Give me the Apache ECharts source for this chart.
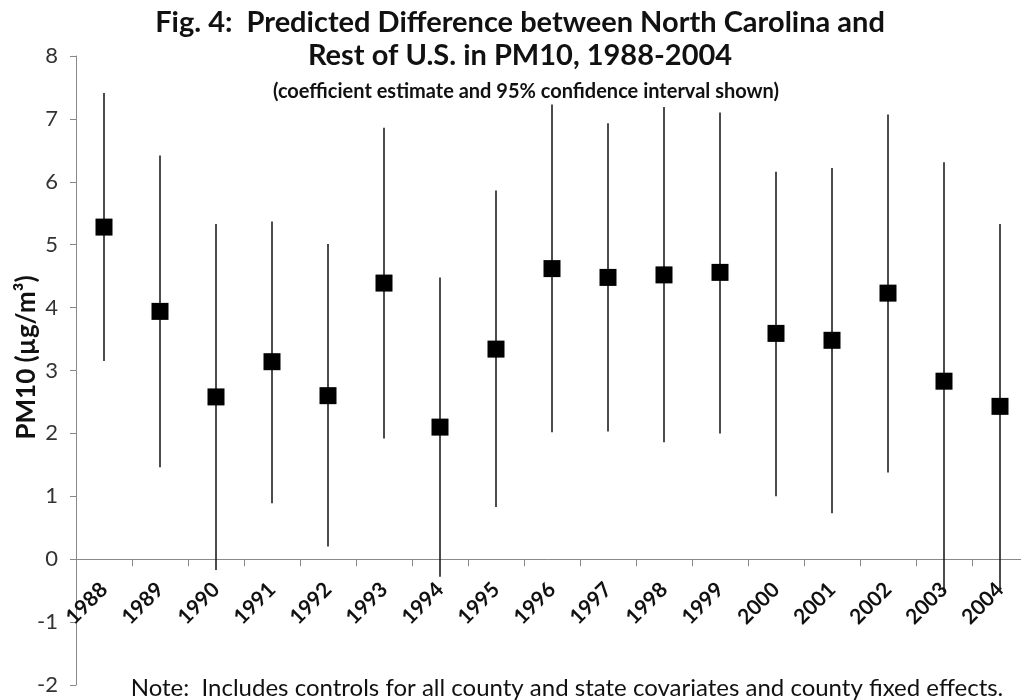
<!DOCTYPE html>
<html>
<head>
<meta charset="utf-8">
<title>PM10 difference, North Carolina vs rest of U.S.</title>
<script src="https://cdn.jsdelivr.net/npm/echarts@6/dist/echarts.min.js"></script>
<style>
  html, body { margin: 0; padding: 0; background: #fff; }
  #chart { width: 1021px; height: 700px; }
</style>
</head>
<body>
<div id="chart"></div>
<script>
// Years on the category axis
const years = ['1988','1989','1990','1991','1992','1993','1994','1995','1996',
               '1997','1998','1999','2000','2001','2002','2003','2004'];
// Coefficient estimates (µg/m³)
const estimate = [5.28, 3.94, 2.58, 3.14, 2.60, 4.39, 2.10, 3.34, 4.62,
                  4.48, 4.52, 4.56, 3.59, 3.48, 4.23, 2.83, 2.43];
// 95% confidence interval bounds
const lower = [3.15, 1.46, -0.17, 0.89, 0.20, 1.92, -0.28, 0.83, 2.02,
               2.03, 1.86, 2.00, 1.00, 0.73, 1.38, -0.52, -0.46];
const upper = [7.41, 6.42, 5.33, 5.37, 5.01, 6.86, 4.48, 5.86, 7.23,
               6.93, 7.19, 7.10, 6.16, 6.22, 7.07, 6.31, 5.33];
// Value axis range and step
const yMin = -2, yMax = 8, yStep = 1;

const font = 'Lato, "Open Sans", "Noto Sans", sans-serif';
const intervals = years.map((y, i) => [i, lower[i], upper[i]]);

// Plot area, in pixels
const W = 1021, H = 700;
const gridTop = 56, gridBottom = 15;
const plotHeight = H - gridTop - gridBottom;
// The year labels sit under the zero line: lift them from the bottom edge
const zeroLift = plotHeight * (0 - yMin) / (yMax - yMin);

const chart = echarts.init(document.getElementById('chart'), null, { renderer: 'canvas' });
chart.setOption({
  animation: false,
  backgroundColor: '#ffffff',
  textStyle: { fontFamily: font },
  title: [
    {
      text: 'Fig. 4:  Predicted Difference between North Carolina and\nRest of U.S. in PM10, 1988-2004',
      left: 515, top: 1, textAlign: 'center',
      textStyle: { fontFamily: font, fontSize: 29, fontWeight: 'bold', color: '#111', lineHeight: 33 }
    },
    {
      text: '(coefficient estimate and 95% confidence interval shown)',
      left: 521, top: 77, textAlign: 'center',
      textStyle: { fontFamily: font, fontSize: 20, fontWeight: 'bold', color: '#111' }
    },
    {
      text: 'Note:  Includes controls for all county and state covariates and county fixed effects.',
      left: 562, top: 671, textAlign: 'center',
      textStyle: { fontFamily: font, fontSize: 24, fontWeight: 'normal', color: '#111' }
    }
  ],
  grid: { left: 76, right: -7, top: gridTop, bottom: gridBottom, containLabel: false, outerBoundsMode: 'none' },
  xAxis: [
    {
      // zero line with tick marks between the years
      type: 'category',
      data: years,
      boundaryGap: true,
      axisLine: { onZero: true, lineStyle: { color: '#888', width: 1 } },
      axisTick: { show: true, length: 7, lineStyle: { color: '#888' } },
      axisLabel: { show: false },
      splitLine: { show: false }
    },
    {
      // year labels just below the zero line
      type: 'category',
      data: years,
      boundaryGap: true,
      position: 'bottom',
      offset: -zeroLift,
      axisLine: { show: false, onZero: false },
      axisTick: { show: false },
      axisLabel: {
        rotate: 45, margin: 27, fontSize: 21, fontWeight: 'bold', color: '#111', fontFamily: font
      },
      splitLine: { show: false }
    }
  ],
  yAxis: {
    type: 'value',
    min: yMin, max: yMax, interval: yStep,
    name: 'PM10 (µg/m³)',
    nameLocation: 'middle',
    nameRotate: 90,
    nameGap: 36,
    nameMoveOverlap: false,
    nameTextStyle: { fontFamily: font, fontSize: 26, fontWeight: 'bold', color: '#111', padding: [0, 0, 0, 26] },
    axisLine: { show: true, lineStyle: { color: '#888', width: 1 } },
    axisTick: { show: true, length: 6, lineStyle: { color: '#888' } },
    axisLabel: { fontSize: 22, color: '#333', margin: 18, fontFamily: font },
    splitLine: { show: false }
  },
  series: [
    {
      // confidence interval whiskers
      type: 'custom',
      xAxisIndex: 0,
      data: intervals,
      encode: { x: 0, y: [1, 2] },
      renderItem: function (params, api) {
        const lo = api.coord([api.value(0), api.value(1)]);
        const hi = api.coord([api.value(0), api.value(2)]);
        return {
          type: 'line',
          shape: { x1: lo[0], y1: lo[1], x2: hi[0], y2: hi[1] },
          style: { stroke: '#111', lineWidth: 1.5 }
        };
      },
      z: 2
    },
    {
      // point estimates
      type: 'scatter',
      xAxisIndex: 0,
      data: estimate,
      symbol: 'rect',
      symbolSize: 17,
      itemStyle: { color: '#000', opacity: 1 },
      z: 3
    }
  ]
});
</script>
</body>
</html>
